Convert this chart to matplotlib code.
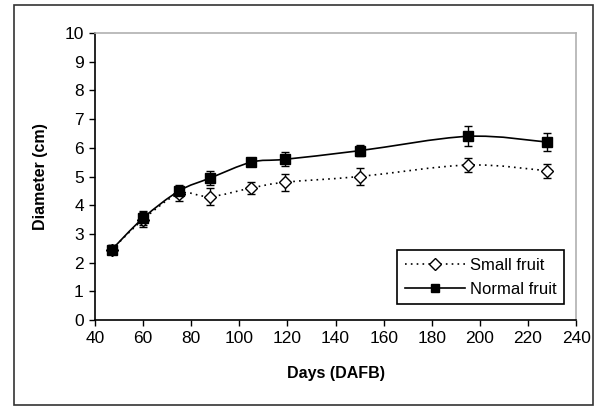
import matplotlib
matplotlib.use("Agg")
import matplotlib.pyplot as plt
import numpy as np
from matplotlib.path import Path
from matplotlib.patches import PathPatch, Rectangle

plt.rcParams['font.family'] = ['Liberation Sans', 'DejaVu Sans']

days = [47, 60, 75, 88, 105, 119, 150, 195, 228]
small_fruit = [2.45, 3.5, 4.4, 4.3, 4.6, 4.8, 5.0, 5.4, 5.2]
small_err = [0.15, 0.25, 0.25, 0.3, 0.2, 0.3, 0.3, 0.25, 0.25]
normal_fruit = [2.45, 3.55, 4.5, 4.95, 5.5, 5.6, 5.9, 6.4, 6.2]
normal_err = [0.15, 0.25, 0.2, 0.25, 0.15, 0.25, 0.2, 0.35, 0.3]
xticks = list(range(40, 241, 20))
yticks = list(range(0, 11))


def smooth_path(x, y, ls, ax):
    x = np.asarray(x, float); y = np.asarray(y, float)
    verts = [(x[0], y[0])]
    codes = [Path.MOVETO]
    n = len(x)
    for i in range(n - 1):
        p0 = (x[i-1], y[i-1]) if i > 0 else (x[i], y[i])
        p1 = (x[i], y[i]); p2 = (x[i+1], y[i+1])
        p3 = (x[i+2], y[i+2]) if i + 2 < n else (x[i+1], y[i+1])
        t = 1/6
        c1 = (p1[0] + (p2[0]-p0[0])*t, p1[1] + (p2[1]-p0[1])*t)
        c2 = (p2[0] - (p3[0]-p1[0])*t, p2[1] - (p3[1]-p1[1])*t)
        verts += [c1, c2, p2]
        codes += [Path.CURVE4]*3
    patch = PathPatch(Path(verts, codes), fill=False, edgecolor='black',
                      lw=1.2, linestyle=ls, zorder=2)
    ax.add_patch(patch)


fig = plt.figure(figsize=(5.97, 4.07), dpi=100)
fig.add_artist(Rectangle((0.0235, 0.006), 0.970, 0.982, transform=fig.transFigure,
                         fill=False, edgecolor='#333333', lw=1.2))
ax = fig.add_axes([0.159, 0.2138, 0.806, 0.705])

smooth_path(days, small_fruit, (0, (1, 2.5)), ax)
smooth_path(days, normal_fruit, '-', ax)

ax.errorbar(days, small_fruit, yerr=small_err, fmt='none', ecolor='black',
            elinewidth=1, capsize=3, capthick=1, zorder=3)
ax.errorbar(days, normal_fruit, yerr=normal_err, fmt='none', ecolor='black',
            elinewidth=1, capsize=3, capthick=1, zorder=3)
ax.plot(days, small_fruit, linestyle='none', marker='D', markersize=6.5,
        markerfacecolor='white', markeredgecolor='black', markeredgewidth=1, zorder=4)
ax.plot(days, normal_fruit, linestyle='none', marker='s', markersize=6.5,
        markerfacecolor='black', markeredgecolor='black', zorder=5)

h1, = ax.plot([], [], linestyle=(0, (1, 2.5)), color='black', lw=1.2, marker='D',
              markersize=6, markerfacecolor='white', markeredgecolor='black')
h2, = ax.plot([], [], linestyle='-', color='black', lw=1.2, marker='s',
              markersize=5.5, markerfacecolor='black')
leg = ax.legend([h1, h2], ['Small fruit', 'Normal fruit'], loc='lower right',
                bbox_to_anchor=(0.975, 0.055), fontsize=12, fancybox=False,
                edgecolor='black', framealpha=1, handlelength=3.6,
                borderpad=0.45, labelspacing=0.55, handletextpad=0.3,
                borderaxespad=0)
leg.get_frame().set_linewidth(1.2)

ax.set_xlim(40, 240)
ax.set_ylim(0, 10)
ax.set_xticks(xticks)
ax.set_yticks(yticks)
ax.tick_params(direction='out', length=4, width=1, labelsize=12.5, colors='black',
               pad=4)
for s in ['left', 'bottom']:
    ax.spines[s].set_color('black'); ax.spines[s].set_linewidth(1.2)
for s in ['top', 'right']:
    ax.spines[s].set_color('#b0b0b0'); ax.spines[s].set_linewidth(1.2)
ax.set_xlabel('Days (DAFB)', fontsize=11.5, fontweight='bold', labelpad=14)
ax.set_ylabel('Diameter (cm)', fontsize=11.5, fontweight='bold', labelpad=12)

fig.savefig('out.png', dpi=100)
